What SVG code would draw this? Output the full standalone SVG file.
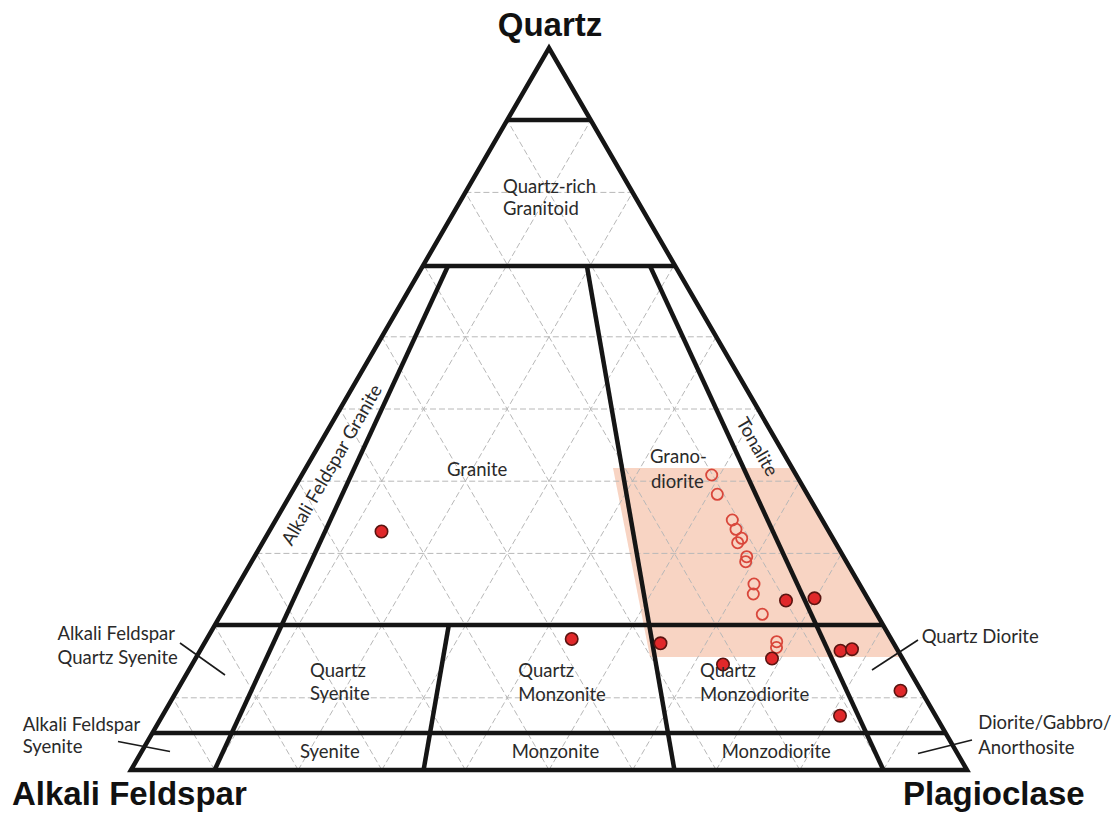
<svg xmlns="http://www.w3.org/2000/svg" width="1114" height="815" viewBox="0 0 1114 815">
<style>
.grid{stroke:#b8b8b8;stroke-width:1;stroke-dasharray:6 3;fill:none}
.bold{stroke:#151515;stroke-width:4.5;fill:none;stroke-linecap:butt}
.ptr{stroke:#1a1a1a;stroke-width:1.6;fill:none}
.lbl{font-family:Lato,"Open Sans",sans-serif;font-size:18.5px;fill:#2a2a2a}
.ttl{font-family:"Liberation Sans",Arial,sans-serif;font-weight:bold;font-size:33px;fill:#111}
.fdot{fill:#e0282a;stroke:#5a1410;stroke-width:1.6}
.odot{fill:none;stroke:#d9473b;stroke-width:1.8}
</style>
<rect width="1114" height="815" fill="#ffffff"/>
<g id="highlight">
<polygon points="613,468 793,468 901,657 650,657" fill="#f8d4c3"/>
</g>
<g id="grid">
<line class="grid" x1="214.6" y1="770" x2="590.8" y2="120.2"/>
<line class="grid" x1="298.2" y1="770" x2="632.6" y2="192.4"/>
<line class="grid" x1="381.8" y1="770" x2="674.4" y2="264.6"/>
<line class="grid" x1="465.4" y1="770" x2="716.2" y2="336.8"/>
<line class="grid" x1="549" y1="770" x2="758" y2="409"/>
<line class="grid" x1="632.6" y1="770" x2="799.8" y2="481.2"/>
<line class="grid" x1="716.2" y1="770" x2="841.6" y2="553.4"/>
<line class="grid" x1="799.8" y1="770" x2="883.4" y2="625.6"/>
<line class="grid" x1="883.4" y1="770" x2="925.2" y2="697.8"/>
<line class="grid" x1="214.6" y1="770" x2="172.8" y2="697.8"/>
<line class="grid" x1="298.2" y1="770" x2="214.6" y2="625.6"/>
<line class="grid" x1="381.8" y1="770" x2="256.4" y2="553.4"/>
<line class="grid" x1="465.4" y1="770" x2="298.2" y2="481.2"/>
<line class="grid" x1="549" y1="770" x2="340" y2="409"/>
<line class="grid" x1="632.6" y1="770" x2="381.8" y2="336.8"/>
<line class="grid" x1="716.2" y1="770" x2="423.6" y2="264.6"/>
<line class="grid" x1="799.8" y1="770" x2="465.4" y2="192.4"/>
<line class="grid" x1="883.4" y1="770" x2="507.2" y2="120.2"/>
<line class="grid" x1="172.8" y1="697.8" x2="925.2" y2="697.8"/>
<line class="grid" x1="256.4" y1="553.4" x2="841.6" y2="553.4"/>
<line class="grid" x1="298.2" y1="481.2" x2="799.8" y2="481.2"/>
<line class="grid" x1="340" y1="409" x2="758" y2="409"/>
<line class="grid" x1="381.8" y1="336.8" x2="716.2" y2="336.8"/>
<line class="grid" x1="465.4" y1="192.4" x2="632.6" y2="192.4"/>
</g>
<g id="fields">
<polygon class="bold" points="131,770 967,770 549,48" stroke-linejoin="miter"/>
<line class="bold" x1="507.3" y1="120" x2="590.7" y2="120"/>
<line class="bold" x1="422.8" y1="266" x2="675.2" y2="266"/>
<line class="bold" x1="215" y1="625" x2="883" y2="625"/>
<line class="bold" x1="152.4" y1="733" x2="945.6" y2="733"/>
<line class="bold" x1="448" y1="266" x2="214.6" y2="770"/>
<line class="bold" x1="448.8" y1="625" x2="423.6" y2="770"/>
<line class="bold" x1="586.9" y1="266" x2="674.4" y2="770"/>
<line class="bold" x1="650" y1="266" x2="883.4" y2="770"/>
</g>
<g id="connectors">
<line class="ptr" x1="180" y1="643" x2="225" y2="675"/>
<line class="ptr" x1="118" y1="741.5" x2="170" y2="751.5"/>
<line class="ptr" x1="918" y1="640" x2="872" y2="670"/>
<line class="ptr" x1="972" y1="740" x2="918" y2="753.5"/>
</g>
<g id="samples">
<circle class="odot" cx="711.7" cy="475" r="5.6"/>
<circle class="odot" cx="717.3" cy="494.3" r="5.6"/>
<circle class="odot" cx="732.3" cy="520" r="5.6"/>
<circle class="odot" cx="736" cy="529.3" r="5.6"/>
<circle class="odot" cx="741.7" cy="538.3" r="5.6"/>
<circle class="odot" cx="737.7" cy="542.7" r="5.6"/>
<circle class="odot" cx="746.7" cy="556.7" r="5.6"/>
<circle class="odot" cx="745.7" cy="561.7" r="5.6"/>
<circle class="odot" cx="754" cy="584" r="5.6"/>
<circle class="odot" cx="753.3" cy="594" r="5.6"/>
<circle class="odot" cx="762.3" cy="614.3" r="5.6"/>
<circle class="odot" cx="776.7" cy="641.7" r="5.6"/>
<circle class="odot" cx="776.5" cy="647.5" r="5.6"/>
<circle class="fdot" cx="381.5" cy="531.5" r="6.2"/>
<circle class="fdot" cx="571.7" cy="639" r="6.2"/>
<circle class="fdot" cx="660.5" cy="643.3" r="6.2"/>
<circle class="fdot" cx="786" cy="600.5" r="6.2"/>
<circle class="fdot" cx="814.5" cy="598.3" r="6.2"/>
<circle class="fdot" cx="840.5" cy="650.7" r="6.2"/>
<circle class="fdot" cx="852" cy="649.2" r="6.2"/>
<circle class="fdot" cx="772" cy="658.5" r="6.2"/>
<circle class="fdot" cx="723" cy="664.5" r="6.2"/>
<circle class="fdot" cx="900.5" cy="690.7" r="6.2"/>
<circle class="fdot" cx="840" cy="715.7" r="6.2"/>
</g>
<g id="labels">
<text class="ttl" x="550" y="36" text-anchor="middle">Quartz</text>
<text class="ttl" x="12" y="805">Alkali Feldspar</text>
<text class="ttl" x="903" y="805">Plagioclase</text>
<text class="lbl" x="503" y="192.7">Quartz-rich</text>
<text class="lbl" x="503" y="215">Granitoid</text>
<text class="lbl" x="447" y="475.7">Granite</text>
<text class="lbl" x="650" y="463.3">Grano-</text>
<text class="lbl" x="651" y="488.3">diorite</text>
<text class="lbl" text-anchor="middle" transform="translate(757,447) rotate(60)" dy="6">Tonalite</text>
<text class="lbl" text-anchor="middle" transform="translate(332,465) rotate(-60)" dy="6">Alkali Feldspar Granite</text>
<text class="lbl" x="310" y="677.3">Quartz</text>
<text class="lbl" x="310" y="700">Syenite</text>
<text class="lbl" x="518.3" y="677.3">Quartz</text>
<text class="lbl" x="518.3" y="700.7">Monzonite</text>
<text class="lbl" x="700" y="677.3">Quartz</text>
<text class="lbl" x="700" y="700.5">Monzodiorite</text>
<text class="lbl" x="300" y="757.5">Syenite</text>
<text class="lbl" x="511.7" y="757.7">Monzonite</text>
<text class="lbl" x="721.7" y="757.7">Monzodiorite</text>
<text class="lbl" x="921.7" y="642.7">Quartz Diorite</text>
<text class="lbl" x="978.3" y="729.3">Diorite/Gabbro/</text>
<text class="lbl" x="978.3" y="754">Anorthosite</text>
<text class="lbl" x="57.5" y="640">Alkali Feldspar</text>
<text class="lbl" x="57.5" y="664.3">Quartz Syenite</text>
<text class="lbl" x="22.7" y="730.7">Alkali Feldspar</text>
<text class="lbl" x="22.7" y="753.3">Syenite</text>
</g>
</svg>
